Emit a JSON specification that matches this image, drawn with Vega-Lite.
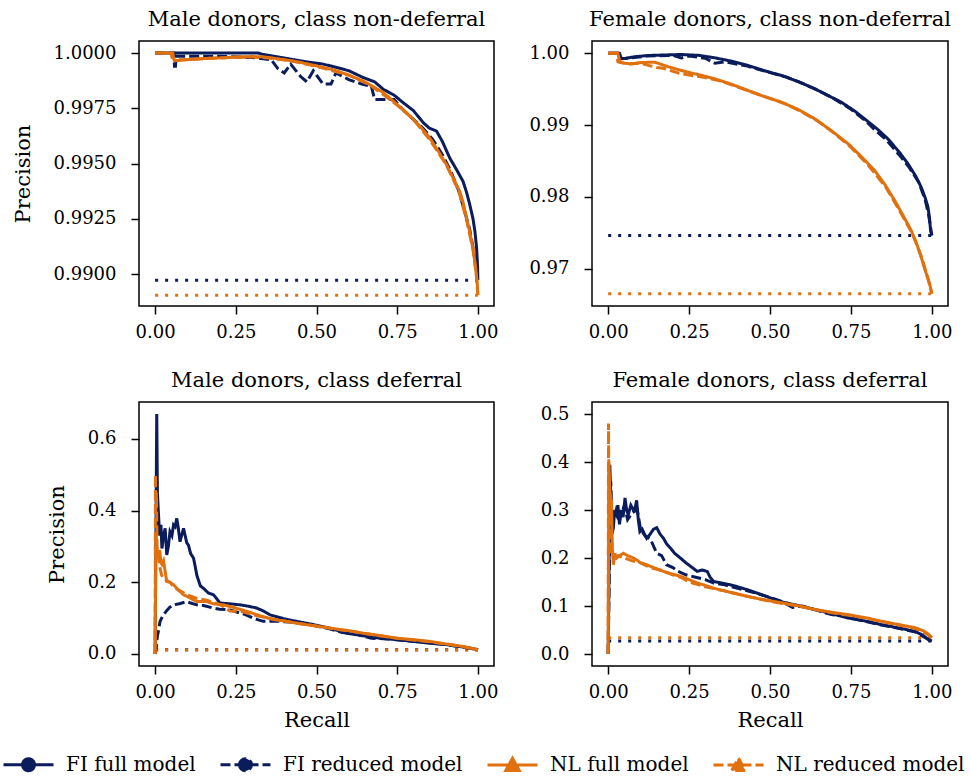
{
  "$schema": "https://vega.github.io/schema/vega-lite/v6.json",
  "padding": {"left": 2, "top": 8, "right": 5, "bottom": 5},
  "background": "white",
  "config": {
    "font": "DejaVu Serif",
    "view": {"stroke": "black", "strokeWidth": 1.5},
    "axis": {"domain": false, "grid": false, "tickColor": "black", "tickWidth": 1.5, "tickSize": 8, "labelColor": "black", "labelFontSize": 18, "labelFont": "DejaVu Serif", "titleFont": "DejaVu Serif", "titleFontSize": 21, "titleFontWeight": "normal", "titleColor": "black"},
    "axisY": {"labelPadding": 15, "titlePadding": 20},
    "axisX": {"labelPadding": 9, "titlePadding": 8},
    "title": {"fontSize": 21, "fontWeight": "normal", "font": "DejaVu Serif", "color": "black", "offset": 11, "anchor": "middle", "frame": "group"}
  },
  "datasets": {
    "mn": [
      {"s":"FI baseline","r":0,"v":0.98973},{"s":"FI baseline","r":1,"v":0.98973},
      {"s":"NL baseline","r":0,"v":0.98905},{"s":"NL baseline","r":1,"v":0.98905},
      {"s":"FI full model","r":0,"v":1.0},{"s":"FI full model","r":0.32,"v":1.0},{"s":"FI full model","r":0.33,"v":0.99995},{"s":"FI full model","r":0.37,"v":0.99985},{"s":"FI full model","r":0.418,"v":0.99973},{"s":"FI full model","r":0.47,"v":0.9996},{"s":"FI full model","r":0.52,"v":0.9995},{"s":"FI full model","r":0.5625,"v":0.99935},{"s":"FI full model","r":0.6,"v":0.9992},{"s":"FI full model","r":0.645,"v":0.99889},{"s":"FI full model","r":0.68,"v":0.9987},{"s":"FI full model","r":0.707,"v":0.99836},{"s":"FI full model","r":0.74,"v":0.9981},{"s":"FI full model","r":0.769,"v":0.99775},{"s":"FI full model","r":0.8,"v":0.9974},{"s":"FI full model","r":0.831,"v":0.99685},{"s":"FI full model","r":0.85,"v":0.9966},{"s":"FI full model","r":0.872,"v":0.99647},{"s":"FI full model","r":0.89,"v":0.996},{"s":"FI full model","r":0.913,"v":0.99525},{"s":"FI full model","r":0.935,"v":0.9947},{"s":"FI full model","r":0.954,"v":0.9942},{"s":"FI full model","r":0.965,"v":0.9937},{"s":"FI full model","r":0.975,"v":0.99314},{"s":"FI full model","r":0.985,"v":0.9925},{"s":"FI full model","r":0.991,"v":0.99192},{"s":"FI full model","r":0.996,"v":0.9912},{"s":"FI full model","r":0.999,"v":0.9904},{"s":"FI full model","r":1.0,"v":0.98973},
      {"s":"FI reduced model","r":0,"v":1.0},{"s":"FI reduced model","r":0.058,"v":1.0},{"s":"FI reduced model","r":0.06,"v":0.9994},{"s":"FI reduced model","r":0.063,"v":0.9994},{"s":"FI reduced model","r":0.065,"v":0.99985},{"s":"FI reduced model","r":0.2,"v":0.99985},{"s":"FI reduced model","r":0.3,"v":0.9998},{"s":"FI reduced model","r":0.36,"v":0.9997},{"s":"FI reduced model","r":0.38,"v":0.9993},{"s":"FI reduced model","r":0.4,"v":0.9991},{"s":"FI reduced model","r":0.42,"v":0.9995},{"s":"FI reduced model","r":0.45,"v":0.99895},{"s":"FI reduced model","r":0.47,"v":0.9987},{"s":"FI reduced model","r":0.49,"v":0.9992},{"s":"FI reduced model","r":0.52,"v":0.9986},{"s":"FI reduced model","r":0.545,"v":0.9986},{"s":"FI reduced model","r":0.56,"v":0.9991},{"s":"FI reduced model","r":0.6,"v":0.9988},{"s":"FI reduced model","r":0.64,"v":0.9986},{"s":"FI reduced model","r":0.67,"v":0.9985},{"s":"FI reduced model","r":0.68,"v":0.9979},{"s":"FI reduced model","r":0.72,"v":0.9979},{"s":"FI reduced model","r":0.74,"v":0.9979},{"s":"FI reduced model","r":0.77,"v":0.9974},{"s":"FI reduced model","r":0.8,"v":0.997},{"s":"FI reduced model","r":0.83,"v":0.9966},{"s":"FI reduced model","r":0.86,"v":0.9961},{"s":"FI reduced model","r":0.89,"v":0.9954},{"s":"FI reduced model","r":0.915,"v":0.9947},{"s":"FI reduced model","r":0.94,"v":0.9938},{"s":"FI reduced model","r":0.96,"v":0.9928},{"s":"FI reduced model","r":0.975,"v":0.992},{"s":"FI reduced model","r":0.985,"v":0.9912},{"s":"FI reduced model","r":0.993,"v":0.9904},{"s":"FI reduced model","r":1.0,"v":0.98973},
      {"s":"NL full model","r":0,"v":1.0},{"s":"NL full model","r":0.055,"v":1.0},{"s":"NL full model","r":0.057,"v":0.99975},{"s":"NL full model","r":0.06,"v":0.99965},{"s":"NL full model","r":0.1,"v":0.9997},{"s":"NL full model","r":0.15,"v":0.99975},{"s":"NL full model","r":0.2,"v":0.99978},{"s":"NL full model","r":0.25,"v":0.99982},{"s":"NL full model","r":0.3,"v":0.99984},{"s":"NL full model","r":0.335,"v":0.99983},{"s":"NL full model","r":0.4,"v":0.9997},{"s":"NL full model","r":0.45,"v":0.99958},{"s":"NL full model","r":0.5,"v":0.99942},{"s":"NL full model","r":0.55,"v":0.99925},{"s":"NL full model","r":0.593,"v":0.99904},{"s":"NL full model","r":0.65,"v":0.9987},{"s":"NL full model","r":0.707,"v":0.99821},{"s":"NL full model","r":0.74,"v":0.9978},{"s":"NL full model","r":0.779,"v":0.9973},{"s":"NL full model","r":0.82,"v":0.9967},{"s":"NL full model","r":0.851,"v":0.99616},{"s":"NL full model","r":0.88,"v":0.9955},{"s":"NL full model","r":0.903,"v":0.99495},{"s":"NL full model","r":0.925,"v":0.9943},{"s":"NL full model","r":0.944,"v":0.99374},{"s":"NL full model","r":0.955,"v":0.9932},{"s":"NL full model","r":0.965,"v":0.99253},{"s":"NL full model","r":0.975,"v":0.9919},{"s":"NL full model","r":0.985,"v":0.99116},{"s":"NL full model","r":0.993,"v":0.9903},{"s":"NL full model","r":0.998,"v":0.9896},{"s":"NL full model","r":1.0,"v":0.98905},
      {"s":"NL reduced model","r":0,"v":1.0},{"s":"NL reduced model","r":0.05,"v":1.0},{"s":"NL reduced model","r":0.052,"v":0.9998},{"s":"NL reduced model","r":0.07,"v":0.9997},{"s":"NL reduced model","r":0.12,"v":0.99972},{"s":"NL reduced model","r":0.2,"v":0.99978},{"s":"NL reduced model","r":0.3,"v":0.99982},{"s":"NL reduced model","r":0.35,"v":0.99978},{"s":"NL reduced model","r":0.42,"v":0.99965},{"s":"NL reduced model","r":0.5,"v":0.9994},{"s":"NL reduced model","r":0.6,"v":0.999},{"s":"NL reduced model","r":0.66,"v":0.9986},{"s":"NL reduced model","r":0.7,"v":0.9982},{"s":"NL reduced model","r":0.75,"v":0.99765},{"s":"NL reduced model","r":0.8,"v":0.997},{"s":"NL reduced model","r":0.85,"v":0.9961},{"s":"NL reduced model","r":0.9,"v":0.995},{"s":"NL reduced model","r":0.94,"v":0.9938},{"s":"NL reduced model","r":0.965,"v":0.99245},{"s":"NL reduced model","r":0.985,"v":0.9911},{"s":"NL reduced model","r":0.995,"v":0.99},{"s":"NL reduced model","r":1.0,"v":0.98905}
    ],
    "fn": [
      {"s":"FI baseline","r":0,"v":0.97463},{"s":"FI baseline","r":1,"v":0.97463},
      {"s":"NL baseline","r":0,"v":0.96652},{"s":"NL baseline","r":1,"v":0.96652},
      {"s":"FI full model","r":0,"v":1.0},{"s":"FI full model","r":0.035,"v":1.0},{"s":"FI full model","r":0.04,"v":0.9993},{"s":"FI full model","r":0.05,"v":0.99925},{"s":"FI full model","r":0.08,"v":0.9995},{"s":"FI full model","r":0.123,"v":0.99968},{"s":"FI full model","r":0.17,"v":0.99975},{"s":"FI full model","r":0.226,"v":0.99982},{"s":"FI full model","r":0.28,"v":0.9997},{"s":"FI full model","r":0.329,"v":0.99936},{"s":"FI full model","r":0.38,"v":0.9989},{"s":"FI full model","r":0.432,"v":0.99829},{"s":"FI full model","r":0.48,"v":0.9976},{"s":"FI full model","r":0.535,"v":0.9969},{"s":"FI full model","r":0.59,"v":0.996},{"s":"FI full model","r":0.638,"v":0.99505},{"s":"FI full model","r":0.68,"v":0.9941},{"s":"FI full model","r":0.72,"v":0.99319},{"s":"FI full model","r":0.76,"v":0.992},{"s":"FI full model","r":0.792,"v":0.99087},{"s":"FI full model","r":0.83,"v":0.9895},{"s":"FI full model","r":0.864,"v":0.98809},{"s":"FI full model","r":0.9,"v":0.9862},{"s":"FI full model","r":0.926,"v":0.98462},{"s":"FI full model","r":0.95,"v":0.9829},{"s":"FI full model","r":0.967,"v":0.98136},{"s":"FI full model","r":0.98,"v":0.9798},{"s":"FI full model","r":0.988,"v":0.97858},{"s":"FI full model","r":0.993,"v":0.977},{"s":"FI full model","r":0.996,"v":0.97534},{"s":"FI full model","r":1.0,"v":0.97463},
      {"s":"FI reduced model","r":0,"v":1.0},{"s":"FI reduced model","r":0.03,"v":1.0},{"s":"FI reduced model","r":0.035,"v":0.9992},{"s":"FI reduced model","r":0.06,"v":0.9993},{"s":"FI reduced model","r":0.12,"v":0.9996},{"s":"FI reduced model","r":0.2,"v":0.9997},{"s":"FI reduced model","r":0.226,"v":0.99935},{"s":"FI reduced model","r":0.25,"v":0.9996},{"s":"FI reduced model","r":0.3,"v":0.9993},{"s":"FI reduced model","r":0.33,"v":0.9986},{"s":"FI reduced model","r":0.36,"v":0.9988},{"s":"FI reduced model","r":0.43,"v":0.9982},{"s":"FI reduced model","r":0.5,"v":0.9973},{"s":"FI reduced model","r":0.55,"v":0.9967},{"s":"FI reduced model","r":0.6,"v":0.9958},{"s":"FI reduced model","r":0.65,"v":0.9948},{"s":"FI reduced model","r":0.7,"v":0.9936},{"s":"FI reduced model","r":0.75,"v":0.9922},{"s":"FI reduced model","r":0.77,"v":0.9915},{"s":"FI reduced model","r":0.8,"v":0.9904},{"s":"FI reduced model","r":0.82,"v":0.9895},{"s":"FI reduced model","r":0.86,"v":0.9879},{"s":"FI reduced model","r":0.9,"v":0.9858},{"s":"FI reduced model","r":0.93,"v":0.9841},{"s":"FI reduced model","r":0.96,"v":0.982},{"s":"FI reduced model","r":0.98,"v":0.9795},{"s":"FI reduced model","r":0.99,"v":0.9775},{"s":"FI reduced model","r":0.997,"v":0.9755},{"s":"FI reduced model","r":1.0,"v":0.97463},
      {"s":"NL full model","r":0,"v":1.0},{"s":"NL full model","r":0.03,"v":1.0},{"s":"NL full model","r":0.036,"v":0.99875},{"s":"NL full model","r":0.05,"v":0.9986},{"s":"NL full model","r":0.072,"v":0.99852},{"s":"NL full model","r":0.1,"v":0.9987},{"s":"NL full model","r":0.144,"v":0.99875},{"s":"NL full model","r":0.18,"v":0.9982},{"s":"NL full model","r":0.226,"v":0.99759},{"s":"NL full model","r":0.28,"v":0.997},{"s":"NL full model","r":0.329,"v":0.99644},{"s":"NL full model","r":0.38,"v":0.9957},{"s":"NL full model","r":0.432,"v":0.99481},{"s":"NL full model","r":0.48,"v":0.994},{"s":"NL full model","r":0.535,"v":0.99319},{"s":"NL full model","r":0.59,"v":0.9921},{"s":"NL full model","r":0.638,"v":0.99087},{"s":"NL full model","r":0.69,"v":0.9892},{"s":"NL full model","r":0.741,"v":0.9874},{"s":"NL full model","r":0.78,"v":0.9857},{"s":"NL full model","r":0.823,"v":0.98369},{"s":"NL full model","r":0.855,"v":0.9817},{"s":"NL full model","r":0.885,"v":0.97951},{"s":"NL full model","r":0.91,"v":0.9775},{"s":"NL full model","r":0.936,"v":0.97534},{"s":"NL full model","r":0.953,"v":0.9735},{"s":"NL full model","r":0.967,"v":0.97163},{"s":"NL full model","r":0.98,"v":0.9697},{"s":"NL full model","r":0.993,"v":0.96793},{"s":"NL full model","r":1.0,"v":0.96652},
      {"s":"NL reduced model","r":0,"v":1.0},{"s":"NL reduced model","r":0.025,"v":1.0},{"s":"NL reduced model","r":0.03,"v":0.9988},{"s":"NL reduced model","r":0.06,"v":0.9985},{"s":"NL reduced model","r":0.1,"v":0.9986},{"s":"NL reduced model","r":0.15,"v":0.998},{"s":"NL reduced model","r":0.17,"v":0.9979},{"s":"NL reduced model","r":0.22,"v":0.9972},{"s":"NL reduced model","r":0.25,"v":0.99695},{"s":"NL reduced model","r":0.3,"v":0.9966},{"s":"NL reduced model","r":0.35,"v":0.9961},{"s":"NL reduced model","r":0.43,"v":0.9948},{"s":"NL reduced model","r":0.5,"v":0.9937},{"s":"NL reduced model","r":0.55,"v":0.9929},{"s":"NL reduced model","r":0.6,"v":0.9918},{"s":"NL reduced model","r":0.65,"v":0.9905},{"s":"NL reduced model","r":0.7,"v":0.9888},{"s":"NL reduced model","r":0.75,"v":0.9869},{"s":"NL reduced model","r":0.8,"v":0.9846},{"s":"NL reduced model","r":0.82,"v":0.9835},{"s":"NL reduced model","r":0.86,"v":0.9812},{"s":"NL reduced model","r":0.9,"v":0.9781},{"s":"NL reduced model","r":0.94,"v":0.9749},{"s":"NL reduced model","r":0.97,"v":0.9714},{"s":"NL reduced model","r":0.99,"v":0.9683},{"s":"NL reduced model","r":1.0,"v":0.96652}
    ],
    "md": [
      {"s":"FI baseline","r":0,"v":0.0115},{"s":"FI baseline","r":1,"v":0.0115},
      {"s":"NL baseline","r":0,"v":0.011},{"s":"NL baseline","r":1,"v":0.011},
      {"s":"FI full model","r":0,"v":0},{"s":"FI full model","r":0.005,"v":0.669},{"s":"FI full model","r":0.007,"v":0.45},{"s":"FI full model","r":0.01,"v":0.396},{"s":"FI full model","r":0.014,"v":0.33},{"s":"FI full model","r":0.018,"v":0.36},{"s":"FI full model","r":0.021,"v":0.294},{"s":"FI full model","r":0.026,"v":0.33},{"s":"FI full model","r":0.031,"v":0.35},{"s":"FI full model","r":0.036,"v":0.276},{"s":"FI full model","r":0.041,"v":0.3},{"s":"FI full model","r":0.046,"v":0.341},{"s":"FI full model","r":0.052,"v":0.33},{"s":"FI full model","r":0.057,"v":0.36},{"s":"FI full model","r":0.062,"v":0.355},{"s":"FI full model","r":0.067,"v":0.378},{"s":"FI full model","r":0.072,"v":0.35},{"s":"FI full model","r":0.077,"v":0.313},{"s":"FI full model","r":0.082,"v":0.33},{"s":"FI full model","r":0.088,"v":0.35},{"s":"FI full model","r":0.093,"v":0.33},{"s":"FI full model","r":0.098,"v":0.31},{"s":"FI full model","r":0.103,"v":0.304},{"s":"FI full model","r":0.11,"v":0.28},{"s":"FI full model","r":0.119,"v":0.267},{"s":"FI full model","r":0.125,"v":0.24},{"s":"FI full model","r":0.129,"v":0.22},{"s":"FI full model","r":0.14,"v":0.19},{"s":"FI full model","r":0.15,"v":0.183},{"s":"FI full model","r":0.165,"v":0.17},{"s":"FI full model","r":0.181,"v":0.165},{"s":"FI full model","r":0.19,"v":0.155},{"s":"FI full model","r":0.201,"v":0.142},{"s":"FI full model","r":0.23,"v":0.14},{"s":"FI full model","r":0.263,"v":0.137},{"s":"FI full model","r":0.29,"v":0.133},{"s":"FI full model","r":0.315,"v":0.128},{"s":"FI full model","r":0.335,"v":0.12},{"s":"FI full model","r":0.356,"v":0.109},{"s":"FI full model","r":0.4,"v":0.098},{"s":"FI full model","r":0.438,"v":0.091},{"s":"FI full model","r":0.49,"v":0.082},{"s":"FI full model","r":0.54,"v":0.072},{"s":"FI full model","r":0.593,"v":0.058},{"s":"FI full model","r":0.65,"v":0.05},{"s":"FI full model","r":0.696,"v":0.044},{"s":"FI full model","r":0.75,"v":0.04},{"s":"FI full model","r":0.8,"v":0.035},{"s":"FI full model","r":0.85,"v":0.03},{"s":"FI full model","r":0.903,"v":0.026},{"s":"FI full model","r":0.95,"v":0.02},{"s":"FI full model","r":0.995,"v":0.013},{"s":"FI full model","r":1.0,"v":0.0115},
      {"s":"FI reduced model","r":0,"v":0},{"s":"FI reduced model","r":0.004,"v":0.02},{"s":"FI reduced model","r":0.007,"v":0.05},{"s":"FI reduced model","r":0.01,"v":0.063},{"s":"FI reduced model","r":0.015,"v":0.09},{"s":"FI reduced model","r":0.02,"v":0.1},{"s":"FI reduced model","r":0.026,"v":0.109},{"s":"FI reduced model","r":0.035,"v":0.12},{"s":"FI reduced model","r":0.045,"v":0.13},{"s":"FI reduced model","r":0.057,"v":0.137},{"s":"FI reduced model","r":0.075,"v":0.14},{"s":"FI reduced model","r":0.098,"v":0.146},{"s":"FI reduced model","r":0.11,"v":0.142},{"s":"FI reduced model","r":0.129,"v":0.137},{"s":"FI reduced model","r":0.15,"v":0.135},{"s":"FI reduced model","r":0.18,"v":0.128},{"s":"FI reduced model","r":0.2,"v":0.125},{"s":"FI reduced model","r":0.232,"v":0.123},{"s":"FI reduced model","r":0.26,"v":0.115},{"s":"FI reduced model","r":0.28,"v":0.11},{"s":"FI reduced model","r":0.304,"v":0.1},{"s":"FI reduced model","r":0.32,"v":0.095},{"s":"FI reduced model","r":0.335,"v":0.091},{"s":"FI reduced model","r":0.37,"v":0.092},{"s":"FI reduced model","r":0.4,"v":0.09},{"s":"FI reduced model","r":0.438,"v":0.088},{"s":"FI reduced model","r":0.49,"v":0.08},{"s":"FI reduced model","r":0.54,"v":0.07},{"s":"FI reduced model","r":0.58,"v":0.06},{"s":"FI reduced model","r":0.62,"v":0.056},{"s":"FI reduced model","r":0.67,"v":0.044},{"s":"FI reduced model","r":0.72,"v":0.042},{"s":"FI reduced model","r":0.78,"v":0.037},{"s":"FI reduced model","r":0.85,"v":0.031},{"s":"FI reduced model","r":0.9,"v":0.026},{"s":"FI reduced model","r":0.95,"v":0.02},{"s":"FI reduced model","r":0.995,"v":0.013},{"s":"FI reduced model","r":1.0,"v":0.0115},
      {"s":"NL full model","r":0,"v":0},{"s":"NL full model","r":0.002,"v":0.332},{"s":"NL full model","r":0.004,"v":0.3},{"s":"NL full model","r":0.007,"v":0.28},{"s":"NL full model","r":0.01,"v":0.267},{"s":"NL full model","r":0.014,"v":0.29},{"s":"NL full model","r":0.018,"v":0.255},{"s":"NL full model","r":0.021,"v":0.25},{"s":"NL full model","r":0.026,"v":0.26},{"s":"NL full model","r":0.031,"v":0.23},{"s":"NL full model","r":0.036,"v":0.202},{"s":"NL full model","r":0.045,"v":0.2},{"s":"NL full model","r":0.057,"v":0.193},{"s":"NL full model","r":0.07,"v":0.18},{"s":"NL full model","r":0.088,"v":0.165},{"s":"NL full model","r":0.1,"v":0.16},{"s":"NL full model","r":0.129,"v":0.146},{"s":"NL full model","r":0.16,"v":0.146},{"s":"NL full model","r":0.18,"v":0.14},{"s":"NL full model","r":0.211,"v":0.137},{"s":"NL full model","r":0.25,"v":0.128},{"s":"NL full model","r":0.284,"v":0.119},{"s":"NL full model","r":0.32,"v":0.108},{"s":"NL full model","r":0.366,"v":0.096},{"s":"NL full model","r":0.4,"v":0.092},{"s":"NL full model","r":0.438,"v":0.086},{"s":"NL full model","r":0.49,"v":0.079},{"s":"NL full model","r":0.542,"v":0.072},{"s":"NL full model","r":0.6,"v":0.065},{"s":"NL full model","r":0.645,"v":0.058},{"s":"NL full model","r":0.7,"v":0.051},{"s":"NL full model","r":0.748,"v":0.044},{"s":"NL full model","r":0.8,"v":0.04},{"s":"NL full model","r":0.851,"v":0.035},{"s":"NL full model","r":0.9,"v":0.028},{"s":"NL full model","r":0.954,"v":0.021},{"s":"NL full model","r":0.995,"v":0.013},{"s":"NL full model","r":1.0,"v":0.011},
      {"s":"NL reduced model","r":0,"v":0},{"s":"NL reduced model","r":0.001,"v":0.5},{"s":"NL reduced model","r":0.002,"v":0.4},{"s":"NL reduced model","r":0.004,"v":0.45},{"s":"NL reduced model","r":0.006,"v":0.3},{"s":"NL reduced model","r":0.01,"v":0.27},{"s":"NL reduced model","r":0.015,"v":0.24},{"s":"NL reduced model","r":0.02,"v":0.22},{"s":"NL reduced model","r":0.026,"v":0.21},{"s":"NL reduced model","r":0.035,"v":0.205},{"s":"NL reduced model","r":0.046,"v":0.2},{"s":"NL reduced model","r":0.06,"v":0.185},{"s":"NL reduced model","r":0.077,"v":0.176},{"s":"NL reduced model","r":0.1,"v":0.165},{"s":"NL reduced model","r":0.129,"v":0.155},{"s":"NL reduced model","r":0.16,"v":0.15},{"s":"NL reduced model","r":0.2,"v":0.138},{"s":"NL reduced model","r":0.232,"v":0.12},{"s":"NL reduced model","r":0.27,"v":0.118},{"s":"NL reduced model","r":0.3,"v":0.11},{"s":"NL reduced model","r":0.35,"v":0.1},{"s":"NL reduced model","r":0.4,"v":0.092},{"s":"NL reduced model","r":0.45,"v":0.084},{"s":"NL reduced model","r":0.5,"v":0.078},{"s":"NL reduced model","r":0.55,"v":0.071},{"s":"NL reduced model","r":0.6,"v":0.064},{"s":"NL reduced model","r":0.65,"v":0.057},{"s":"NL reduced model","r":0.7,"v":0.05},{"s":"NL reduced model","r":0.75,"v":0.044},{"s":"NL reduced model","r":0.8,"v":0.039},{"s":"NL reduced model","r":0.85,"v":0.034},{"s":"NL reduced model","r":0.9,"v":0.028},{"s":"NL reduced model","r":0.95,"v":0.021},{"s":"NL reduced model","r":0.995,"v":0.013},{"s":"NL reduced model","r":1.0,"v":0.011}
    ],
    "fd": [
      {"s":"FI baseline","r":0,"v":0.027},{"s":"FI baseline","r":1,"v":0.027},
      {"s":"NL baseline","r":0,"v":0.034},{"s":"NL baseline","r":1,"v":0.034},
      {"s":"FI full model","r":0,"v":0},{"s":"FI full model","r":0.003,"v":0.2},{"s":"FI full model","r":0.005,"v":0.394},{"s":"FI full model","r":0.008,"v":0.33},{"s":"FI full model","r":0.012,"v":0.25},{"s":"FI full model","r":0.016,"v":0.263},{"s":"FI full model","r":0.02,"v":0.3},{"s":"FI full model","r":0.026,"v":0.29},{"s":"FI full model","r":0.03,"v":0.31},{"s":"FI full model","r":0.035,"v":0.27},{"s":"FI full model","r":0.04,"v":0.3},{"s":"FI full model","r":0.046,"v":0.285},{"s":"FI full model","r":0.052,"v":0.325},{"s":"FI full model","r":0.057,"v":0.3},{"s":"FI full model","r":0.062,"v":0.29},{"s":"FI full model","r":0.07,"v":0.31},{"s":"FI full model","r":0.078,"v":0.3},{"s":"FI full model","r":0.083,"v":0.304},{"s":"FI full model","r":0.088,"v":0.32},{"s":"FI full model","r":0.093,"v":0.28},{"s":"FI full model","r":0.098,"v":0.255},{"s":"FI full model","r":0.105,"v":0.26},{"s":"FI full model","r":0.112,"v":0.25},{"s":"FI full model","r":0.119,"v":0.241},{"s":"FI full model","r":0.13,"v":0.25},{"s":"FI full model","r":0.14,"v":0.26},{"s":"FI full model","r":0.15,"v":0.263},{"s":"FI full model","r":0.16,"v":0.25},{"s":"FI full model","r":0.171,"v":0.241},{"s":"FI full model","r":0.18,"v":0.23},{"s":"FI full model","r":0.192,"v":0.221},{"s":"FI full model","r":0.205,"v":0.21},{"s":"FI full model","r":0.223,"v":0.2},{"s":"FI full model","r":0.24,"v":0.19},{"s":"FI full model","r":0.26,"v":0.18},{"s":"FI full model","r":0.275,"v":0.172},{"s":"FI full model","r":0.29,"v":0.175},{"s":"FI full model","r":0.306,"v":0.172},{"s":"FI full model","r":0.315,"v":0.16},{"s":"FI full model","r":0.326,"v":0.151},{"s":"FI full model","r":0.35,"v":0.148},{"s":"FI full model","r":0.378,"v":0.144},{"s":"FI full model","r":0.4,"v":0.14},{"s":"FI full model","r":0.43,"v":0.134},{"s":"FI full model","r":0.48,"v":0.122},{"s":"FI full model","r":0.534,"v":0.109},{"s":"FI full model","r":0.58,"v":0.102},{"s":"FI full model","r":0.637,"v":0.093},{"s":"FI full model","r":0.69,"v":0.084},{"s":"FI full model","r":0.741,"v":0.075},{"s":"FI full model","r":0.8,"v":0.068},{"s":"FI full model","r":0.845,"v":0.061},{"s":"FI full model","r":0.9,"v":0.054},{"s":"FI full model","r":0.948,"v":0.047},{"s":"FI full model","r":0.97,"v":0.04},{"s":"FI full model","r":0.99,"v":0.03},{"s":"FI full model","r":1.0,"v":0.027},
      {"s":"FI reduced model","r":0,"v":0},{"s":"FI reduced model","r":0.003,"v":0.15},{"s":"FI reduced model","r":0.005,"v":0.3},{"s":"FI reduced model","r":0.008,"v":0.36},{"s":"FI reduced model","r":0.012,"v":0.27},{"s":"FI reduced model","r":0.018,"v":0.28},{"s":"FI reduced model","r":0.025,"v":0.3},{"s":"FI reduced model","r":0.035,"v":0.28},{"s":"FI reduced model","r":0.05,"v":0.31},{"s":"FI reduced model","r":0.06,"v":0.28},{"s":"FI reduced model","r":0.075,"v":0.295},{"s":"FI reduced model","r":0.09,"v":0.3},{"s":"FI reduced model","r":0.1,"v":0.26},{"s":"FI reduced model","r":0.115,"v":0.245},{"s":"FI reduced model","r":0.13,"v":0.24},{"s":"FI reduced model","r":0.14,"v":0.225},{"s":"FI reduced model","r":0.15,"v":0.21},{"s":"FI reduced model","r":0.165,"v":0.205},{"s":"FI reduced model","r":0.18,"v":0.186},{"s":"FI reduced model","r":0.2,"v":0.18},{"s":"FI reduced model","r":0.216,"v":0.172},{"s":"FI reduced model","r":0.24,"v":0.165},{"s":"FI reduced model","r":0.27,"v":0.16},{"s":"FI reduced model","r":0.3,"v":0.155},{"s":"FI reduced model","r":0.326,"v":0.148},{"s":"FI reduced model","r":0.36,"v":0.144},{"s":"FI reduced model","r":0.4,"v":0.137},{"s":"FI reduced model","r":0.45,"v":0.128},{"s":"FI reduced model","r":0.5,"v":0.118},{"s":"FI reduced model","r":0.534,"v":0.11},{"s":"FI reduced model","r":0.57,"v":0.097},{"s":"FI reduced model","r":0.6,"v":0.1},{"s":"FI reduced model","r":0.64,"v":0.092},{"s":"FI reduced model","r":0.69,"v":0.082},{"s":"FI reduced model","r":0.72,"v":0.08},{"s":"FI reduced model","r":0.78,"v":0.07},{"s":"FI reduced model","r":0.84,"v":0.061},{"s":"FI reduced model","r":0.9,"v":0.053},{"s":"FI reduced model","r":0.95,"v":0.046},{"s":"FI reduced model","r":0.99,"v":0.03},{"s":"FI reduced model","r":1.0,"v":0.027},
      {"s":"NL full model","r":0,"v":0},{"s":"NL full model","r":0.002,"v":0.4},{"s":"NL full model","r":0.005,"v":0.34},{"s":"NL full model","r":0.01,"v":0.318},{"s":"NL full model","r":0.013,"v":0.22},{"s":"NL full model","r":0.016,"v":0.186},{"s":"NL full model","r":0.02,"v":0.21},{"s":"NL full model","r":0.026,"v":0.2},{"s":"NL full model","r":0.035,"v":0.205},{"s":"NL full model","r":0.047,"v":0.21},{"s":"NL full model","r":0.06,"v":0.205},{"s":"NL full model","r":0.078,"v":0.2},{"s":"NL full model","r":0.09,"v":0.195},{"s":"NL full model","r":0.1,"v":0.19},{"s":"NL full model","r":0.119,"v":0.186},{"s":"NL full model","r":0.14,"v":0.18},{"s":"NL full model","r":0.171,"v":0.172},{"s":"NL full model","r":0.2,"v":0.166},{"s":"NL full model","r":0.223,"v":0.162},{"s":"NL full model","r":0.25,"v":0.155},{"s":"NL full model","r":0.275,"v":0.148},{"s":"NL full model","r":0.3,"v":0.143},{"s":"NL full model","r":0.326,"v":0.137},{"s":"NL full model","r":0.38,"v":0.128},{"s":"NL full model","r":0.43,"v":0.12},{"s":"NL full model","r":0.48,"v":0.113},{"s":"NL full model","r":0.534,"v":0.107},{"s":"NL full model","r":0.59,"v":0.1},{"s":"NL full model","r":0.637,"v":0.093},{"s":"NL full model","r":0.69,"v":0.087},{"s":"NL full model","r":0.741,"v":0.082},{"s":"NL full model","r":0.8,"v":0.075},{"s":"NL full model","r":0.845,"v":0.068},{"s":"NL full model","r":0.9,"v":0.061},{"s":"NL full model","r":0.948,"v":0.055},{"s":"NL full model","r":0.975,"v":0.048},{"s":"NL full model","r":0.99,"v":0.041},{"s":"NL full model","r":1.0,"v":0.034},
      {"s":"NL reduced model","r":0,"v":0},{"s":"NL reduced model","r":0.001,"v":0.48},{"s":"NL reduced model","r":0.003,"v":0.3},{"s":"NL reduced model","r":0.006,"v":0.25},{"s":"NL reduced model","r":0.01,"v":0.21},{"s":"NL reduced model","r":0.02,"v":0.2},{"s":"NL reduced model","r":0.03,"v":0.205},{"s":"NL reduced model","r":0.05,"v":0.2},{"s":"NL reduced model","r":0.07,"v":0.195},{"s":"NL reduced model","r":0.1,"v":0.19},{"s":"NL reduced model","r":0.13,"v":0.18},{"s":"NL reduced model","r":0.16,"v":0.175},{"s":"NL reduced model","r":0.2,"v":0.165},{"s":"NL reduced model","r":0.23,"v":0.158},{"s":"NL reduced model","r":0.25,"v":0.15},{"s":"NL reduced model","r":0.275,"v":0.145},{"s":"NL reduced model","r":0.3,"v":0.14},{"s":"NL reduced model","r":0.35,"v":0.133},{"s":"NL reduced model","r":0.4,"v":0.125},{"s":"NL reduced model","r":0.45,"v":0.117},{"s":"NL reduced model","r":0.5,"v":0.11},{"s":"NL reduced model","r":0.55,"v":0.104},{"s":"NL reduced model","r":0.6,"v":0.098},{"s":"NL reduced model","r":0.65,"v":0.091},{"s":"NL reduced model","r":0.7,"v":0.085},{"s":"NL reduced model","r":0.75,"v":0.08},{"s":"NL reduced model","r":0.8,"v":0.074},{"s":"NL reduced model","r":0.85,"v":0.067},{"s":"NL reduced model","r":0.9,"v":0.06},{"s":"NL reduced model","r":0.95,"v":0.053},{"s":"NL reduced model","r":0.99,"v":0.04},{"s":"NL reduced model","r":1.0,"v":0.034}
    ]
  },
  "columns": 2,
  "align": "each",
  "spacing": {"row": 27, "column": 29},
  "resolve": {"scale": {"x": "independent", "y": "independent", "color": "shared", "strokeDash": "shared"}},
  "concat": [
    {
      "title": "Male donors, class non-deferral",
      "width": 355, "height": 265,
      "data": {"name": "mn"},
      "mark": {"type": "line", "strokeWidth": 3},
      "encoding": {
        "x": {"field": "r", "type": "quantitative", "scale": {"domain": [-0.05, 1.05], "nice": false, "zero": false}, "axis": {"title": null, "values": [0, 0.25, 0.5, 0.75, 1], "format": ".2f"}},
        "y": {"field": "v", "type": "quantitative", "scale": {"domain": [0.98856, 1.000545], "nice": false, "zero": false}, "axis": {"title": "Precision", "values": [0.99, 0.9925, 0.995, 0.9975, 1.0], "format": ".4f"}},
        "color": {"field": "s", "type": "nominal", "scale": {"domain": ["FI full model", "FI reduced model", "NL full model", "NL reduced model", "FI baseline", "NL baseline"], "range": ["#0b1c5c", "#0b1c5c", "#e1700f", "#e1700f", "#0b1c5c", "#e1700f"]},
          "legend": {"values": ["FI full model", "FI reduced model", "NL full model", "NL reduced model"], "title": null, "orient": "none", "legendX": -137, "legendY": 697, "direction": "horizontal", "symbolSize": 2500, "symbolStrokeWidth": 3, "labelFontSize": 20, "labelFont": "DejaVu Serif", "labelColor": "black", "labelLimit": 400, "labelOffset": 11, "columnPadding": 18,
            "encode": {"symbols": {"update": {"shape": {"signal": "indexof(datum.value, 'FI') === 0 ? 'M-1,0L1,0M-0.24,0A0.24,0.24,0,1,1,0.24,0A0.24,0.24,0,1,1,-0.24,0Z' : 'M-1,0L1,0M-0.27,0.22L0,-0.27L0.27,0.22Z'"}, "fill": {"scale": "color", "field": "value"}}}}}},
        "strokeDash": {"field": "s", "type": "nominal", "scale": {"domain": ["FI full model", "FI reduced model", "NL full model", "NL reduced model", "FI baseline", "NL baseline"], "range": [[1, 0], [10, 4], [1, 0], [10, 4], [3, 7], [3, 7]]},
          "legend": {"values": ["FI full model", "FI reduced model", "NL full model", "NL reduced model"], "title": null, "orient": "none", "legendX": -137, "legendY": 697, "direction": "horizontal", "symbolSize": 2500, "symbolStrokeWidth": 3, "labelFontSize": 20, "labelFont": "DejaVu Serif", "labelColor": "black", "labelLimit": 400, "labelOffset": 11, "columnPadding": 18,
            "encode": {"symbols": {"update": {"shape": {"signal": "indexof(datum.value, 'FI') === 0 ? 'M-1,0L1,0M-0.24,0A0.24,0.24,0,1,1,0.24,0A0.24,0.24,0,1,1,-0.24,0Z' : 'M-1,0L1,0M-0.27,0.22L0,-0.27L0.27,0.22Z'"}, "fill": {"scale": "color", "field": "value"}}}}}}
      }
    },
    {
      "title": "Female donors, class non-deferral",
      "width": 356, "height": 265,
      "data": {"name": "fn"},
      "mark": {"type": "line", "strokeWidth": 3},
      "encoding": {
        "x": {"field": "r", "type": "quantitative", "scale": {"domain": [-0.05, 1.05], "nice": false, "zero": false}, "axis": {"title": null, "values": [0, 0.25, 0.5, 0.75, 1], "format": ".2f"}},
        "y": {"field": "v", "type": "quantitative", "scale": {"domain": [0.9648, 1.0017], "nice": false, "zero": false}, "axis": {"title": null, "values": [0.97, 0.98, 0.99, 1.0], "format": ".2f"}},
        "color": {"field": "s", "type": "nominal"},
        "strokeDash": {"field": "s", "type": "nominal"}
      }
    },
    {
      "title": "Male donors, class deferral",
      "width": 355, "height": 264,
      "data": {"name": "md"},
      "mark": {"type": "line", "strokeWidth": 3},
      "encoding": {
        "x": {"field": "r", "type": "quantitative", "scale": {"domain": [-0.05, 1.05], "nice": false, "zero": false}, "axis": {"title": "Recall", "values": [0, 0.25, 0.5, 0.75, 1], "format": ".2f"}},
        "y": {"field": "v", "type": "quantitative", "scale": {"domain": [-0.0335, 0.7025], "nice": false, "zero": false}, "axis": {"title": "Precision", "values": [0, 0.2, 0.4, 0.6], "format": ".1f"}},
        "color": {"field": "s", "type": "nominal"},
        "strokeDash": {"field": "s", "type": "nominal"}
      }
    },
    {
      "title": "Female donors, class deferral",
      "width": 356, "height": 264,
      "data": {"name": "fd"},
      "mark": {"type": "line", "strokeWidth": 3},
      "encoding": {
        "x": {"field": "r", "type": "quantitative", "scale": {"domain": [-0.05, 1.05], "nice": false, "zero": false}, "axis": {"title": "Recall", "values": [0, 0.25, 0.5, 0.75, 1], "format": ".2f"}},
        "y": {"field": "v", "type": "quantitative", "scale": {"domain": [-0.025, 0.525], "nice": false, "zero": false}, "axis": {"title": null, "values": [0, 0.1, 0.2, 0.3, 0.4, 0.5], "format": ".1f"}},
        "color": {"field": "s", "type": "nominal"},
        "strokeDash": {"field": "s", "type": "nominal"}
      }
    }
  ]
}
